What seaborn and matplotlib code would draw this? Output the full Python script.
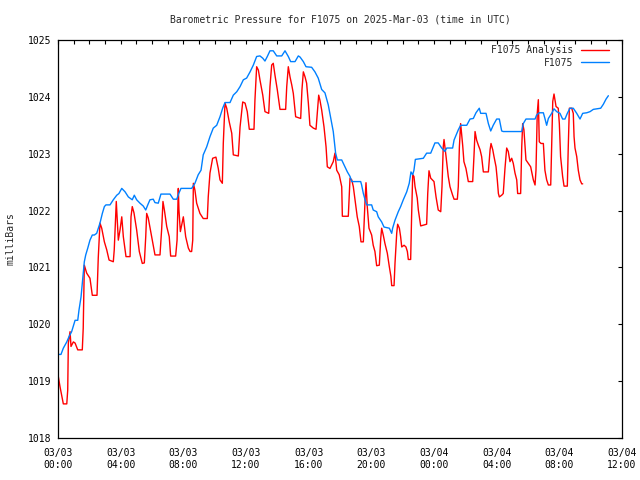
import matplotlib
matplotlib.use("Agg")
import matplotlib.dates as mdates
import matplotlib.pyplot as plt
import pandas as pd
import seaborn as sns


START = pd.Timestamp("2025-03-03 00:00")
END = pd.Timestamp("2025-03-04 12:00")
TITLE = "Barometric Pressure for F1075 on 2025-Mar-03 (time in UTC)"

# analysis series: hours after START, pressure in mb
analysis_hours = [
    0.02, 0.13, 0.34, 0.56, 0.62, 0.66, 0.77, 0.83, 0.98, 1.09,
    1.26, 1.55, 1.61, 1.68, 1.83, 2.04, 2.19, 2.49, 2.57, 2.68,
    2.79, 2.96, 3.11, 3.26, 3.53, 3.59, 3.64, 3.72, 3.85, 3.96,
    4.07, 4.17, 4.34, 4.60, 4.66, 4.74, 4.85, 5.02, 5.19, 5.38,
    5.51, 5.60, 5.66, 5.76, 5.94, 6.08, 6.19, 6.51, 6.62, 6.70,
    6.79, 6.94, 7.10, 7.19, 7.51, 7.60, 7.68, 7.72, 7.81, 8.00,
    8.15, 8.32, 8.43, 8.53, 8.60, 8.64, 8.74, 8.85, 9.06, 9.27,
    9.53, 9.59, 9.70, 9.87, 10.08, 10.23, 10.34, 10.49, 10.55, 10.66,
    10.77, 10.93, 11.09, 11.19, 11.51, 11.62, 11.79, 11.94, 12.08, 12.21,
    12.51, 12.57, 12.68, 12.79, 12.89, 13.07, 13.21, 13.45, 13.53, 13.64,
    13.74, 13.85, 14.00, 14.17, 14.53, 14.60, 14.70, 14.81, 14.92, 15.02,
    15.17, 15.49, 15.57, 15.66, 15.77, 15.87, 15.98, 16.08, 16.30, 16.47,
    16.55, 16.64, 16.72, 16.83, 16.98, 17.11, 17.19, 17.36, 17.57, 17.68,
    17.79, 17.95, 18.11, 18.15, 18.53, 18.64, 18.75, 18.85, 18.96, 19.10,
    19.23, 19.34, 19.49, 19.60, 19.66, 19.74, 19.85, 20.02, 20.12, 20.23,
    20.34, 20.51, 20.60, 20.66, 20.76, 20.87, 21.02, 21.15, 21.25, 21.30,
    21.45, 21.51, 21.62, 21.68, 21.79, 21.87, 21.94, 22.09, 22.21, 22.30,
    22.36, 22.51, 22.57, 22.64, 22.72, 22.79, 22.93, 23.00, 23.15, 23.53,
    23.60, 23.68, 23.79, 24.00, 24.13, 24.27, 24.43, 24.51, 24.59, 24.64,
    24.77, 24.91, 25.02, 25.19, 25.28, 25.49, 25.55, 25.62, 25.70, 25.83,
    25.91, 26.04, 26.19, 26.47, 26.55, 26.62, 26.72, 26.83, 26.94, 27.04,
    27.15, 27.47, 27.58, 27.64, 27.75, 27.83, 27.96, 28.04, 28.11, 28.17,
    28.32, 28.42, 28.53, 28.64, 28.74, 28.85, 28.96, 29.06, 29.17, 29.28,
    29.34, 29.53, 29.60, 29.66, 29.74, 29.87, 30.02, 30.17, 30.34, 30.45,
    30.51, 30.59, 30.66, 30.72, 30.83, 30.98, 31.08, 31.19, 31.30, 31.45,
    31.51, 31.58, 31.66, 31.79, 31.93, 32.00, 32.08, 32.21, 32.30, 32.51,
    32.57, 32.64, 32.79, 32.89, 32.94, 33.00, 33.11, 33.21, 33.32, 33.43,
    33.49,
]
analysis_mb = [
    1019.08, 1018.90, 1018.60, 1018.60, 1018.84, 1019.67, 1019.87, 1019.61, 1019.69, 1019.67,
    1019.55, 1019.55, 1019.93, 1021.04, 1020.90, 1020.81, 1020.51, 1020.51, 1021.17, 1021.78,
    1021.69, 1021.45, 1021.31, 1021.13, 1021.10, 1021.31, 1021.63, 1022.16, 1021.48, 1021.66,
    1021.89, 1021.54, 1021.19, 1021.19, 1021.89, 1022.07, 1021.96, 1021.66, 1021.28, 1021.07,
    1021.08, 1021.54, 1021.95, 1021.87, 1021.60, 1021.39, 1021.22, 1021.22, 1021.69, 1022.16,
    1022.01, 1021.72, 1021.54, 1021.20, 1021.20, 1021.48, 1022.39, 1022.01, 1021.63, 1021.89,
    1021.54, 1021.34, 1021.28, 1021.28, 1021.48, 1022.48, 1022.36, 1022.13, 1021.95, 1021.86,
    1021.86, 1022.24, 1022.66, 1022.92, 1022.94, 1022.74, 1022.54, 1022.48, 1023.18, 1023.89,
    1023.80, 1023.56, 1023.36, 1022.98, 1022.96, 1023.47, 1023.91, 1023.89, 1023.74, 1023.43,
    1023.43, 1023.94, 1024.53, 1024.47, 1024.30, 1024.03, 1023.74, 1023.71, 1024.18, 1024.56,
    1024.59, 1024.38, 1024.12, 1023.78, 1023.78, 1024.18, 1024.53, 1024.35, 1024.21, 1024.06,
    1023.65, 1023.62, 1024.12, 1024.44, 1024.35, 1024.24, 1023.89, 1023.50, 1023.45, 1023.43,
    1023.71, 1024.03, 1023.94, 1023.77, 1023.47, 1023.12, 1022.77, 1022.74, 1022.86, 1023.01,
    1022.71, 1022.63, 1022.42, 1021.90, 1021.90, 1022.57, 1022.54, 1022.42, 1022.19, 1021.89,
    1021.72, 1021.45, 1021.45, 1022.19, 1022.49, 1022.07, 1021.69, 1021.57, 1021.39, 1021.28,
    1021.03, 1021.04, 1021.51, 1021.69, 1021.57, 1021.42, 1021.25, 1021.01, 1020.84, 1020.68,
    1020.68, 1021.07, 1021.60, 1021.76, 1021.69, 1021.54, 1021.36, 1021.39, 1021.36, 1021.28,
    1021.14, 1021.14, 1021.89, 1022.63, 1022.60, 1022.42, 1022.22, 1022.01, 1021.73, 1021.76,
    1022.30, 1022.70, 1022.57, 1022.51, 1022.24, 1022.01, 1021.98, 1022.42, 1023.12, 1023.25,
    1022.95, 1022.60, 1022.42, 1022.27, 1022.20, 1022.20, 1022.42, 1023.12, 1023.53, 1023.15,
    1022.86, 1022.74, 1022.51, 1022.51, 1022.95, 1023.39, 1023.24, 1023.15, 1023.07, 1022.95,
    1022.68, 1022.68, 1023.07, 1023.18, 1023.07, 1022.95, 1022.77, 1022.54, 1022.30, 1022.24,
    1022.27, 1022.30, 1022.74, 1023.10, 1023.04, 1022.86, 1022.92, 1022.83, 1022.66, 1022.54,
    1022.30, 1022.30, 1023.12, 1023.53, 1023.42, 1022.89, 1022.83, 1022.77, 1022.54, 1022.45,
    1022.71, 1023.71, 1023.95, 1023.21, 1023.18, 1023.18, 1022.71, 1022.54, 1022.45, 1022.45,
    1023.12, 1023.92, 1024.05, 1023.83, 1023.80, 1023.53, 1022.95, 1022.60, 1022.43, 1022.43,
    1023.12, 1023.80, 1023.80, 1023.71, 1023.30, 1023.10, 1022.95, 1022.71, 1022.54, 1022.47,
    1022.47,
]

# station observations: hours after START, pressure in mb
obs_hours = [
    0.02, 0.19, 0.34, 0.56, 0.70, 0.87, 0.98, 1.09, 1.26, 1.34,
    1.47, 1.55, 1.68, 1.77, 1.90, 2.04, 2.19, 2.32, 2.47, 2.68,
    2.83, 2.96, 3.06, 3.32, 3.53, 3.75, 3.89, 4.07, 4.28, 4.49,
    4.74, 4.87, 5.02, 5.23, 5.44, 5.60, 5.73, 5.87, 6.08, 6.19,
    6.40, 6.57, 7.15, 7.36, 7.58, 7.72, 7.85, 8.53, 8.74, 8.95,
    9.13, 9.27, 9.49, 9.70, 9.91, 10.13, 10.34, 10.51, 10.66, 10.98,
    11.19, 11.41, 11.62, 11.83, 12.04, 12.26, 12.47, 12.68, 12.89, 13.07,
    13.21, 13.36, 13.53, 13.74, 13.96, 14.28, 14.49, 14.70, 14.85, 15.13,
    15.34, 15.45, 15.66, 15.83, 16.19, 16.40, 16.61, 16.83, 17.04, 17.25,
    17.41, 17.57, 17.72, 17.83, 18.11, 18.32, 18.47, 18.64, 18.75, 19.32,
    19.38, 19.49, 19.60, 19.70, 20.02, 20.12, 20.34, 20.44, 20.66, 20.81,
    21.15, 21.30, 21.36, 21.51, 21.72, 21.87, 22.04, 22.26, 22.42, 22.53,
    22.64, 22.72, 22.81, 23.32, 23.53, 23.79, 24.06, 24.27, 24.49, 24.70,
    24.81, 25.19, 25.28, 25.55, 25.70, 26.09, 26.30, 26.51, 26.68, 26.89,
    26.98, 27.32, 27.47, 27.62, 27.78, 28.00, 28.17, 28.32, 28.42, 29.60,
    29.70, 29.87, 30.45, 30.55, 30.72, 30.98, 31.08, 31.19, 31.30, 31.51,
    31.66, 31.83, 32.04, 32.21, 32.36, 32.51, 32.68, 32.89, 33.11, 33.32,
    33.49, 33.75, 33.96, 34.17, 34.64, 34.81, 34.98, 35.13,
]
obs_mb = [
    1019.47, 1019.47, 1019.58, 1019.69, 1019.78, 1019.87, 1019.97, 1020.07, 1020.07, 1020.25,
    1020.48, 1020.72, 1021.10, 1021.22, 1021.34, 1021.48, 1021.57, 1021.57, 1021.60, 1021.78,
    1021.95, 1022.07, 1022.10, 1022.10, 1022.19, 1022.27, 1022.30, 1022.39, 1022.33, 1022.24,
    1022.19, 1022.27, 1022.19, 1022.13, 1022.08, 1022.01, 1022.10, 1022.19, 1022.20, 1022.14,
    1022.13, 1022.29, 1022.29, 1022.20, 1022.20, 1022.31, 1022.39, 1022.39, 1022.48, 1022.63,
    1022.71, 1022.98, 1023.12, 1023.30, 1023.45, 1023.50, 1023.65, 1023.80, 1023.90, 1023.90,
    1024.03, 1024.09, 1024.18, 1024.30, 1024.33, 1024.44, 1024.56, 1024.71, 1024.72, 1024.68,
    1024.63, 1024.71, 1024.81, 1024.81, 1024.72, 1024.72, 1024.81, 1024.71, 1024.62, 1024.62,
    1024.72, 1024.70, 1024.62, 1024.53, 1024.52, 1024.44, 1024.33, 1024.13, 1024.07, 1023.86,
    1023.62, 1023.39, 1023.01, 1022.89, 1022.89, 1022.77, 1022.68, 1022.60, 1022.51, 1022.51,
    1022.45, 1022.30, 1022.19, 1022.10, 1022.10, 1022.01, 1021.98, 1021.89, 1021.80, 1021.71,
    1021.69, 1021.60, 1021.69, 1021.83, 1021.98, 1022.07, 1022.19, 1022.33, 1022.48, 1022.68,
    1022.63, 1022.71, 1022.90, 1022.92, 1023.01, 1023.01, 1023.19, 1023.19, 1023.10, 1023.04,
    1023.10, 1023.10, 1023.24, 1023.42, 1023.50, 1023.50, 1023.61, 1023.62, 1023.72, 1023.80,
    1023.71, 1023.71, 1023.53, 1023.40, 1023.50, 1023.61, 1023.61, 1023.40, 1023.39, 1023.39,
    1023.53, 1023.61, 1023.61, 1023.68, 1023.72, 1023.72, 1023.62, 1023.50, 1023.62, 1023.71,
    1023.79, 1023.74, 1023.71, 1023.61, 1023.61, 1023.71, 1023.80, 1023.80, 1023.71, 1023.61,
    1023.71, 1023.72, 1023.74, 1023.78, 1023.80, 1023.87, 1023.96, 1024.02,
]

y_ticks = [1018, 1019, 1020, 1021, 1022, 1023, 1024, 1025]


def to_frame(hours, mb):
    return pd.DataFrame({"time": START + pd.to_timedelta(hours, unit="h"), "mb": mb})


def main():
    sns.set_style("white")
    plt.rcParams["font.family"] = ["DejaVu Sans Mono"]
    plt.rcParams["font.size"] = 7

    fig = plt.figure(figsize=(6.4, 4.8), dpi=100)
    ax = fig.add_axes([58 / 640, 1 - 438 / 480, 564 / 640, 398 / 480])

    sns.lineplot(data=to_frame(analysis_hours, analysis_mb), x="time", y="mb", ax=ax,
                 color="#ff0000", lw=1.0, label="F1075 Analysis", estimator=None, sort=False)
    sns.lineplot(data=to_frame(obs_hours, obs_mb), x="time", y="mb", ax=ax,
                 color="#0080ff", lw=1.0, label="F1075", estimator=None, sort=False)

    ax.set_xlim(START, END)
    ax.set_ylim(1018, 1025)
    ax.set_yticks(y_ticks)
    ax.xaxis.set_major_locator(mdates.HourLocator(byhour=range(0, 24, 4)))
    ax.xaxis.set_minor_locator(mdates.HourLocator())
    ax.xaxis.set_major_formatter(mdates.DateFormatter("%m/%d\n%H:%M"))

    ax.tick_params(which="both", direction="in", top=True, right=True,
                   length=3, width=0.8, color="black", labelsize=7, labelcolor="black")
    ax.tick_params(axis="x", pad=7)
    ax.tick_params(axis="y", pad=5)
    for lbl in ax.get_xticklabels():
        lbl.set_linespacing(1.3)

    for sp in ax.spines.values():
        sp.set_color("black")
        sp.set_linewidth(0.9)

    ax.set_xlabel("")
    ax.set_ylabel("milliBars", fontsize=7)
    ax.yaxis.set_label_coords(-0.076, 0.5)

    fig.text(340 / 640, 1 - 20 / 480, TITLE, ha="center", va="center", fontsize=7)

    ax.legend(loc="upper right", bbox_to_anchor=(0.977, 0.987), frameon=False,
              markerfirst=False, handlelength=2.9, handletextpad=0.8,
              borderaxespad=0, borderpad=0, labelspacing=0.25, fontsize=7)

    fig.savefig("out.png", dpi=100)
    plt.close(fig)


if __name__ == "__main__":
    main()
